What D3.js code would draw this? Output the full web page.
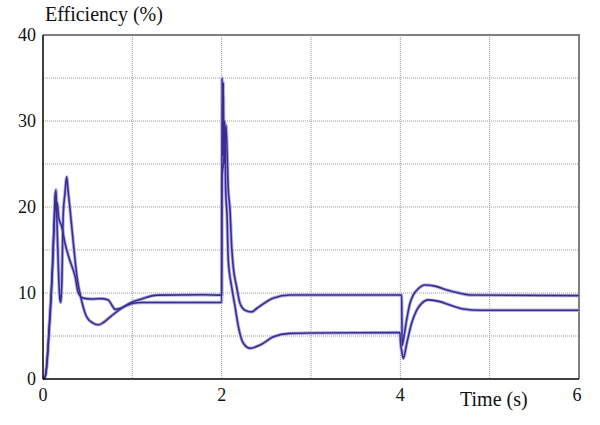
<!DOCTYPE html>
<html>
<head>
<meta charset="utf-8">
<script src="https://cdn.jsdelivr.net/npm/d3@7"></script>
<style>
  body { margin: 0; background: #fff; }
  text { font-family: 'Liberation Serif', 'Times New Roman', serif; fill: #111; }
</style>
</head>
<body>
<svg id="chart"></svg>
<script>
// time (s), efficiency (%)
const curveA = [
  [0, 0], [0.025, 0.3], [0.04, 1.5], [0.06, 4.5], [0.08, 8], [0.1, 11.5], [0.115, 15],
  [0.13, 20], [0.145, 22], [0.16, 17], [0.175, 12], [0.19, 9.2], [0.2, 8.9], [0.21, 11],
  [0.227, 19.3], [0.245, 21.5], [0.265, 23.5], [0.28, 22], [0.3, 20], [0.34, 15.8],
  [0.38, 11.9], [0.43, 9.2], [0.49, 7.2], [0.56, 6.5], [0.62, 6.3], [0.68, 6.6],
  [0.75, 7.2], [0.85, 8.0], [0.97, 8.8], [1.1, 9.3], [1.28, 9.75], [1.8, 9.8], [2.0, 9.75],
  [2.001, 23], [2.03, 26], [2.049, 29.5], [2.074, 22], [2.093, 19.7], [2.112, 15.4],
  [2.13, 13], [2.168, 10.7], [2.205, 8.8], [2.261, 8.0], [2.336, 7.8], [2.392, 8.2],
  [2.575, 9.4], [2.765, 9.77], [4.015, 9.77], [4.02, 3.9], [4.033, 4.5], [4.071, 6.9],
  [4.108, 8.8], [4.145, 9.77], [4.201, 10.5], [4.276, 10.93], [4.388, 10.8],
  [4.519, 10.35], [4.668, 9.97], [4.78, 9.77], [6.0, 9.7]
]

const curveB = [
  [0, 0], [0.02, 0.2], [0.03, 0.5], [0.048, 2.2], [0.067, 5.3], [0.09, 9.2], [0.104, 12.7],
  [0.115, 15.8], [0.13, 19], [0.14, 21.8], [0.15, 19.5], [0.16, 20.5], [0.175, 18.8],
  [0.21, 17.7], [0.246, 15.8], [0.3, 13.8], [0.36, 11.9], [0.395, 10], [0.45, 9.4],
  [0.55, 9.3], [0.65, 9.35], [0.73, 9.2], [0.77, 8.6], [0.806, 8.1], [0.86, 8.2],
  [0.95, 8.6], [1.01, 8.8], [1.1, 8.9], [2.0, 8.9],
  [2.004, 35], [2.012, 26], [2.018, 34.5], [2.026, 25], [2.034, 30], [2.045, 22],
  [2.06, 19], [2.074, 13.8], [2.112, 10.7], [2.15, 8.4], [2.187, 6.1], [2.243, 4.15],
  [2.317, 3.57], [2.43, 3.95], [2.578, 4.9], [2.765, 5.3], [3.0, 5.35], [3.995, 5.4],
  [4.004, 4.0], [4.015, 3.3], [4.033, 2.4], [4.071, 4.1], [4.127, 6.5], [4.183, 8.0],
  [4.239, 8.8], [4.313, 9.2], [4.444, 9.0], [4.556, 8.6], [4.705, 8.14], [4.892, 8.0],
  [6.0, 8.0]
]

const xTickLabels = [0, 2, 4, 6]
const yTickLabels = [0, 10, 20, 30, 40]
const xGrid = [1, 2, 3, 4, 5]
const yGrid = [5, 10, 15, 20, 25, 30, 35]

function efficiencyChart () {
  const width = 600
  const height = 425

  const svg = d3.select('#chart')
    .attr('width', width)
    .attr('height', height)

  const x = d3.scaleLinear().domain([0, 6]).range([43, 579])
  const y = d3.scaleLinear().domain([0, 40]).range([379, 35])

  // dotted grid
  svg.selectAll('.gx')
    .data(xGrid)
    .enter().append('line')
    .attr('x1', d => x(d)).attr('x2', d => x(d))
    .attr('y1', y(40)).attr('y2', y(0))
    .style('stroke', '#9a9a9a')
    .style('stroke-dasharray', '1,1')

  svg.selectAll('.gy')
    .data(yGrid)
    .enter().append('line')
    .attr('x1', x(0)).attr('x2', x(6))
    .attr('y1', d => y(d)).attr('y2', d => y(d))
    .style('stroke', '#9a9a9a')
    .style('stroke-dasharray', '1,1')

  // frame: grey top/right, black axes
  svg.append('line')
    .attr('x1', x(0)).attr('x2', x(6) + 1)
    .attr('y1', y(40)).attr('y2', y(40))
    .style('stroke', '#808080').style('stroke-width', 2)
  svg.append('line')
    .attr('x1', x(6)).attr('x2', x(6))
    .attr('y1', y(40)).attr('y2', y(0))
    .style('stroke', '#808080').style('stroke-width', 2)

  const line = d3.line()
    .curve(d3.curveMonotoneX)
    .x(d => x(d[0]))
    .y(d => y(d[1]))

  const curves = [curveA, curveB]

  svg.selectAll('.halo')
    .data(curves)
    .enter().append('path')
    .attr('d', line)
    .style('fill', 'none')
    .style('stroke', '#b4afe0')
    .style('stroke-width', 3.4)
    .style('stroke-linejoin', 'round')

  svg.selectAll('.curve')
    .data(curves)
    .enter().append('path')
    .attr('d', line)
    .style('fill', 'none')
    .style('stroke', '#392d94')
    .style('stroke-width', 1.6)
    .style('stroke-linejoin', 'round')

  svg.append('line')
    .attr('x1', x(0)).attr('x2', x(0))
    .attr('y1', y(40)).attr('y2', y(0))
    .style('stroke', '#000').style('stroke-width', 1.5)
  svg.append('line')
    .attr('x1', x(0)).attr('x2', x(6))
    .attr('y1', y(0)).attr('y2', y(0))
    .style('stroke', '#000').style('stroke-width', 1.5)

  // tick labels
  svg.selectAll('.yl')
    .data(yTickLabels)
    .enter().append('text')
    .attr('x', 36)
    .attr('y', d => y(d))
    .attr('dy', '0.33em')
    .attr('text-anchor', 'end')
    .style('font-size', '18px')
    .text(d => d)

  svg.selectAll('.xl')
    .data(xTickLabels)
    .enter().append('text')
    .attr('x', d => x(d) - (d === 6 ? 2 : 0))
    .attr('y', 400.5)
    .attr('text-anchor', 'middle')
    .style('font-size', '18px')
    .text(d => d)

  svg.append('text')
    .attr('x', 45)
    .attr('y', 20.5)
    .style('font-size', '20px')
    .text('Efficiency (%)')

  svg.append('text')
    .attr('x', 460)
    .attr('y', 406)
    .style('font-size', '20px')
    .text('Time (s)')
}

efficiencyChart()
</script>
</body>
</html>
